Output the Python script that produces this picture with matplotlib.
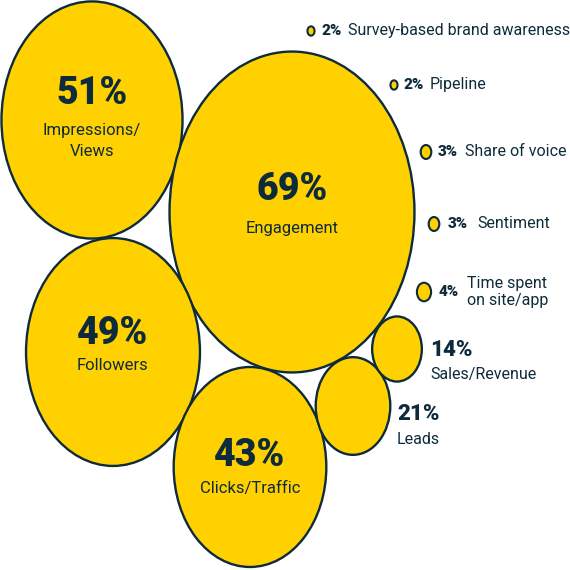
import matplotlib.pyplot as plt
from matplotlib.patches import Ellipse

# share of respondents per metric
big_values = [51, 69, 49, 43, 21, 14]
big_labels = ["Impressions/\nViews", "Engagement", "Followers", "Clicks/Traffic", "Leads", "Sales/Revenue"]

small_values = [2, 2, 3, 3, 4]
small_labels = ["Survey-based brand awareness", "Pipeline", "Share of voice", "Sentiment", "Time spent\non site/app"]

# layout (pixel coords, y down)
big_centers = [(92, 120), (292, 212), (113, 352), (250, 467), (353, 406), (397, 349)]
small_centers = [(311, 31), (394, 85), (426, 152), (434, 224), (424, 292)]

YELLOW = "#FFD100"
NAVY = "#0E2B3B"
PX_PER_PCT = 3.55
STRETCH = 1.31

plt.rcParams["font.family"] = ["Roboto", "DejaVu Sans"]

fig = plt.figure(figsize=(5.7, 5.7), dpi=100)
ax = fig.add_axes([0, 0, 1, 1])
ax.set_xlim(0, 570)
ax.set_ylim(570, 0)
ax.axis("off")


def bubble(cx, cy, v, lw):
    w = v * PX_PER_PCT
    ax.add_patch(Ellipse((cx, cy), w, w * STRETCH, facecolor=YELLOW,
                         edgecolor=NAVY, linewidth=lw))


for (cx, cy), v in zip(big_centers, big_values):
    bubble(cx, cy, v, 1.7)

# labels inside the four largest bubbles
inside = [(93, 141), (190, 229), (333, 366), (456, 489)]
for i, (ny, ly) in enumerate(inside):
    cx = big_centers[i][0]
    ax.text(cx, ny, f"{big_values[i]}%", ha="center", va="center",
            fontsize=27, fontweight="black", color=NAVY)
    ax.text(cx, ly, big_labels[i], ha="center", va="center",
            fontsize=12, color=NAVY, linespacing=1.45)

# labels to the right of Leads and Sales
side = [(397, 414, 440), (430, 350, 375)]
for i, (x, ny, ly) in zip([4, 5], side):
    ax.text(x, ny, f"{big_values[i]}%", ha="left", va="center",
            fontsize=16, fontweight="black", color=NAVY)
    ax.text(x, ly, big_labels[i], ha="left", va="center",
            fontsize=11.5, color=NAVY)

# tiny bubbles with inline labels
num_x = [322, 403, 438, 448, 439]
lab_x = [348, 430, 465, 477, 467]
for (cx, cy), v, lab, nx, lx in zip(small_centers, small_values, small_labels, num_x, lab_x):
    bubble(cx, cy, v, 1.5)
    ax.text(nx, cy, f"{v}%", ha="left", va="center",
            fontsize=11, fontweight="black", color=NAVY)
    ax.text(lx, cy, lab, ha="left", va="center",
            fontsize=11.5, color=NAVY, linespacing=1.2)

fig.savefig("out.png", dpi=100, facecolor="white")
